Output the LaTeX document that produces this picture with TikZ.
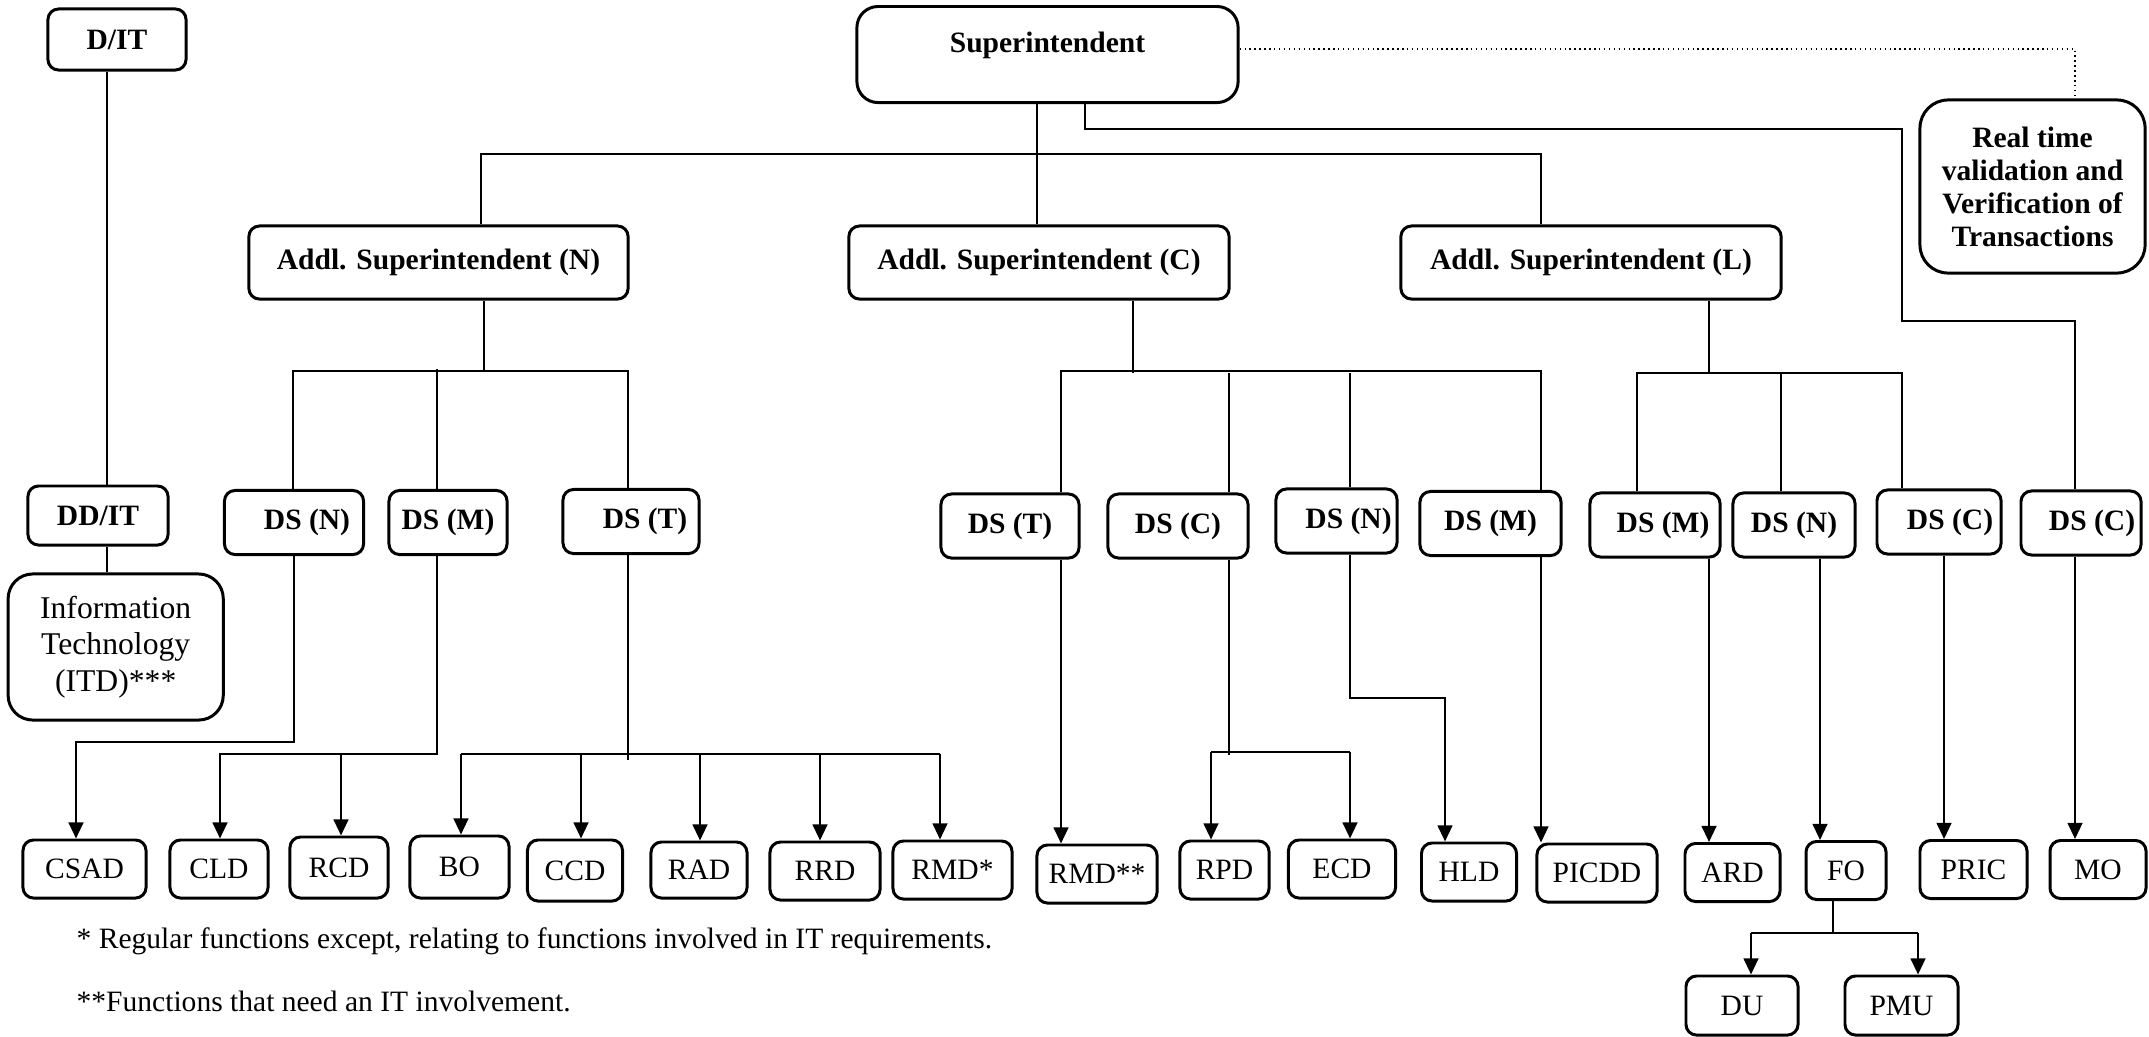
\documentclass[tikz,border=0pt]{standalone}
\usepackage{fontspec}
\setmainfont{Liberation Serif}
\usetikzlibrary{arrows.meta}

\newcommand{\chartfont}{\fontsize{8.4}{9.4}\selectfont}

\tikzset{
	headbox/.style={draw, line width=0.85pt, rounded corners=3pt, font=\chartfont\bfseries, align=center, inner sep=0pt},
	dsbox/.style={headbox, minimum height=0.64cm},
	leafbox/.style={draw, line width=0.85pt, rounded corners=3pt, font=\chartfont, align=center, inner sep=0pt, minimum height=0.58cm},
	link/.style={line width=0.5pt},
	bus/.style={line width=0.65pt},
	arr/.style={line width=0.65pt, -{Triangle[length=4.6pt,width=4.2pt]}},
}

\begin{document}
\begin{tikzpicture}[x=0.01cm, y=-0.01cm]
	\useasboundingbox (0,0) rectangle (2149,1036);

	\node[headbox, minimum width=1.38cm, minimum height=0.61cm] (dit) at (117,39.5) {D/IT};
	\node[headbox, anchor=north, minimum width=3.81cm, text height=0.46cm, text depth=0.5cm, rounded corners=6pt] (sup) at (1047.5,5) {Superintendent};
	\node[headbox, minimum width=2.25cm, minimum height=1.73cm, rounded corners=8pt] (rtv) at (2032.5,186.5) {Real time\\validation and\\Verification of\\Transactions};

	\node[headbox, minimum width=3.79cm, minimum height=0.73cm] (addlN) at (438.5,262.5) {Addl. Superintendent (N)};
	\node[headbox, minimum width=3.80cm, minimum height=0.73cm] (addlC) at (1039,262.5) {Addl. Superintendent (C)};
	\node[headbox, minimum width=3.80cm, minimum height=0.73cm] (addlL) at (1591,262.5) {Addl. Superintendent (L)};

	\node[headbox, minimum width=1.40cm, minimum height=0.59cm] (ddit) at (98,515.5) {DD/IT};
	\node[leafbox, font=\fontsize{9}{10.3}\selectfont, minimum width=2.15cm, minimum height=1.46cm, rounded corners=7pt] (itd) at (115.7,647) {Information\\Technology\\(ITD)***};

	\node[dsbox, minimum width=1.39cm] (dsNa) at (294,522.5) {\hspace*{0.26cm}DS (N)};
	\node[dsbox, minimum width=1.18cm] (dsMa) at (448,522.5) {DS (M)};
	\node[dsbox, minimum width=1.36cm] (dsTa) at (631,521.5) {\hspace*{0.28cm}DS (T)};
	\node[dsbox, minimum width=1.38cm] (dsTb) at (1010,526) {DS (T)};
	\node[dsbox, minimum width=1.40cm] (dsCb) at (1178,526) {DS (C)};
	\node[dsbox, minimum width=1.21cm] (dsNb) at (1336.5,521) {\hspace*{0.24cm}DS (N)};
	\node[dsbox, minimum width=1.41cm] (dsMb) at (1490.5,523.5) {DS (M)};
	\node[dsbox, minimum width=1.30cm] (dsMc) at (1655,525) {\hspace*{0.16cm}DS (M)};
	\node[dsbox, minimum width=1.22cm] (dsNc) at (1794,525) {DS (N)};
	\node[dsbox, minimum width=1.24cm] (dsCc) at (1939,522) {\hspace*{0.22cm}DS (C)};
	\node[dsbox, minimum width=1.20cm] (dsCd) at (2081,523) {\hspace*{0.22cm}DS (C)};

	\node[leafbox, minimum width=1.23cm] (csad) at (84.5,869) {CSAD};
	\node[leafbox, minimum width=0.98cm] (cld) at (219,869) {CLD};
	\node[leafbox, minimum width=0.98cm, minimum height=0.61cm] (rcd) at (339,867.5) {RCD};
	\node[leafbox, minimum width=0.99cm, minimum height=0.62cm] (bo) at (459.5,867) {BO};
	\node[leafbox, minimum width=0.95cm, minimum height=0.61cm] (ccd) at (575,870.5) {CCD};
	\node[leafbox, minimum width=0.96cm, minimum height=0.56cm] (rad) at (699,870) {RAD};
	\node[leafbox, minimum width=1.10cm] (rrd) at (825,871) {RRD};
	\node[leafbox, minimum width=1.19cm] (rmdA) at (952.5,870) {RMD*};
	\node[leafbox, minimum width=1.20cm] (rmdB) at (1097,874) {RMD**};
	\node[leafbox, minimum width=0.89cm] (rpd) at (1224.5,870) {RPD};
	\node[leafbox, minimum width=1.07cm] (ecd) at (1342,869) {ECD};
	\node[leafbox, minimum width=0.95cm] (hld) at (1469,872) {HLD};
	\node[leafbox, minimum width=1.20cm] (picdd) at (1597,873) {PICDD};
	\node[leafbox, minimum width=0.95cm] (ard) at (1732.5,872.5) {ARD};
	\node[leafbox, minimum width=0.80cm] (fo) at (1846,870.5) {FO};
	\node[leafbox, minimum width=1.07cm] (pric) at (1973.5,869.5) {PRIC};
	\node[leafbox, minimum width=0.96cm] (mo) at (2098,869.5) {MO};
	\node[leafbox, minimum width=1.12cm, minimum height=0.59cm] (du) at (1742,1005.5) {DU};
	\node[leafbox, minimum width=1.13cm, minimum height=0.59cm] (pmu) at (1901.5,1005.5) {PMU};

	% D/IT branch
	\draw[link] (dit.south -| 107,0) -- (ddit.north -| 107,0);
	\draw[link] (ddit.south -| 107,0) -- (itd.north -| 107,0);

	% top level
	\draw[link] (sup.south -| 1037,0) -- (addlC.north -| 1037,0);
	\draw[bus] (addlN.north -| 481,0) -- (481,154) -- (1541,154) -- (addlL.north -| 1541,0);
	\draw[link] (sup.south -| 1085,0) -- (1085,129) -- (1902,129) -- (1902,321) -- (2075,321) -- (dsCd.north -| 2075,0);
	\draw[densely dotted] (sup.east |- 0,49) -- (2075,49) -- (rtv.north -| 2075,0);

	% Addl. Superintendent (N)
	\draw[link] (addlN.south -| 484,0) -- (484,371);
	\draw[bus] (dsNa.north -| 293,0) |- (628,371) -- (dsTa.north -| 628,0);
	\draw[link] (437,369) -- (dsMa.north -| 437,0);

	% Addl. Superintendent (C)
	\draw[link] (addlC.south -| 1133,0) -- (1133,373);
	\draw[bus] (dsTb.north -| 1061,0) |- (1541,371) -- (dsMb.north -| 1541,0);
	\foreach \x/\n in {1229/dsCb, 1350/dsNb}
		\draw[link] (\x,373) -- (\n.north -| \x,0);

	% Addl. Superintendent (L)
	\draw[link] (addlL.south -| 1709,0) -- (1709,373);
	\draw[bus] (dsMc.north -| 1637,0) |- (1902,373) -- (dsCc.north -| 1902,0);
	\draw[link] (1781,373) -- (dsNc.north -| 1781,0);

	% divisions
	\draw[arr] (dsNa.south) |- (76,742) -- (csad.north -| 76,0);
	\draw[arr] (dsMa.south -| 437,0) |- (220,754) -- (cld.north -| 220,0);
	\draw[arr] (341,754) -- (rcd.north -| 341,0);
	\draw[link] (dsTa.south -| 628,0) -- (628,760);
	\draw[bus] (461,754) -- (940,754);
	\foreach \x/\n in {461/bo, 581/ccd, 700/rad, 820/rrd, 940/rmdA}
		\draw[arr] (\x,754) -- (\n.north -| \x,0);
	\draw[arr] (dsTb.south -| 1061,0) -- (rmdB.north -| 1061,0);
	\draw[link] (dsCb.south -| 1229,0) -- (1229,755);
	\draw[bus] (1211,752) -- (1350,752);
	\foreach \x/\n in {1211/rpd, 1350/ecd}
		\draw[arr] (\x,752) -- (\n.north -| \x,0);
	\draw[arr] (dsNb.south -| 1350,0) |- (1445,698) -- (hld.north -| 1445,0);
	\foreach \x/\p/\q in {1541/dsMb/picdd, 1709/dsMc/ard, 1820/dsNc/fo, 1944/dsCc/pric, 2075/dsCd/mo}
		\draw[arr] (\p.south -| \x,0) -- (\q.north -| \x,0);
	\draw[link] (fo.south -| 1833,0) -- (1833,933);
	\draw[bus] (1751,933) -- (1918,933);
	\foreach \x/\n in {1751/du, 1918/pmu}
		\draw[arr] (\x,933) -- (\n.north -| \x,0);

	\node[anchor=west, inner sep=0pt, font=\chartfont] (noteA) at (76,941) {* Regular functions except, relating to functions involved in IT requirements.};
	\node[anchor=west, inner sep=0pt, font=\chartfont] (noteB) at (76,1001) {**Functions that need an IT involvement.};
\end{tikzpicture}
\end{document}
